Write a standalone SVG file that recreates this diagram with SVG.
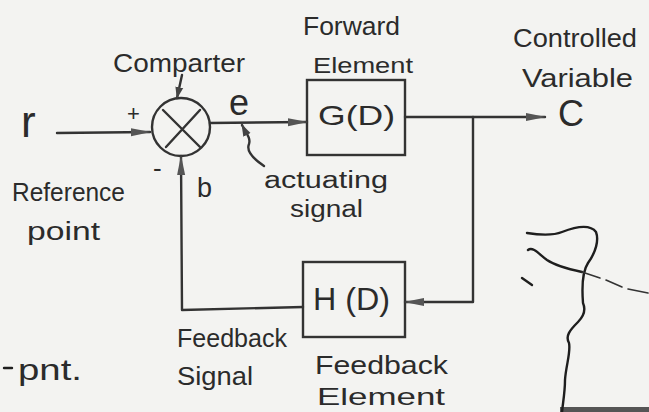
<svg xmlns="http://www.w3.org/2000/svg" width="649" height="412" viewBox="0 0 649 412">
<style>
  .t { font-family: "Liberation Sans", "DejaVu Sans", sans-serif; fill: #2b2b2b; }
  .ln { fill: none; stroke: #333; stroke-width: 2.4; stroke-linecap: round; stroke-linejoin: round; }
  .box { fill: none; stroke: #333; stroke-width: 2.4; }
  .sk { fill: none; stroke: #1e1e1e; stroke-width: 2.4; stroke-linecap: round; stroke-linejoin: round; }
</style>
<defs>
  <marker id="ah" markerWidth="20" markerHeight="10" refX="19" refY="5" orient="auto" markerUnits="userSpaceOnUse">
    <path d="M0,1 L20,5 L0,9 Z" fill="#555"/>
  </marker>
  <marker id="ahs" markerWidth="12" markerHeight="10" refX="11" refY="5" orient="auto" markerUnits="userSpaceOnUse">
    <path d="M0,1 L12,5 L0,9 Z" fill="#444"/>
  </marker>
</defs>
<rect x="0" y="0" width="649" height="412" fill="#f3f3f1"/>
<rect x="560" y="407" width="89" height="5" fill="#555"/>

<g id="comparator">
  <circle cx="181" cy="127" r="29" class="ln"/>
  <path d="M163,110 L200,147 M200,110 L166,147" class="ln"/>
  <text class="t" x="113" y="72" font-size="26" textLength="132" lengthAdjust="spacingAndGlyphs">Comparter</text>
  <text class="t" x="127" y="121" font-size="22">+</text>
  <text class="t" x="153" y="177" font-size="26">-</text>
</g>

<g id="forward-element">
  <rect x="307" y="80" width="98" height="75" class="box"/>
  <text class="t" x="318" y="125" font-size="28" textLength="77" lengthAdjust="spacingAndGlyphs">G(D)</text>
  <text class="t" x="303" y="35" font-size="26" textLength="97" lengthAdjust="spacingAndGlyphs">Forward</text>
  <text class="t" x="313" y="73" font-size="22" textLength="100" lengthAdjust="spacingAndGlyphs">Element</text>
</g>

<g id="feedback-element">
  <rect x="303" y="262" width="102" height="75" class="box"/>
  <text class="t" x="313" y="310" font-size="32" textLength="77" lengthAdjust="spacingAndGlyphs">H (D)</text>
  <text class="t" x="315" y="374" font-size="25" textLength="133" lengthAdjust="spacingAndGlyphs">Feedback</text>
  <text class="t" x="317" y="405" font-size="24" textLength="128" lengthAdjust="spacingAndGlyphs">Element</text>
</g>

<g id="reference">
  <text class="t" x="21" y="137" font-size="44">r</text>
  <text class="t" x="12" y="201" font-size="25" textLength="113" lengthAdjust="spacingAndGlyphs">Reference</text>
  <text class="t" x="27" y="240" font-size="26" textLength="73" lengthAdjust="spacingAndGlyphs">point</text>
</g>

<g id="output">
  <text class="t" x="558" y="126" font-size="36">C</text>
  <text class="t" x="513" y="47" font-size="25" textLength="124" lengthAdjust="spacingAndGlyphs">Controlled</text>
  <text class="t" x="522" y="87" font-size="25" textLength="111" lengthAdjust="spacingAndGlyphs">Variable</text>
</g>

<g id="labels">
  <text class="t" x="229" y="115" font-size="36">e</text>
  <text class="t" x="197" y="197" font-size="27">b</text>
  <text class="t" x="264" y="188" font-size="23" textLength="124" lengthAdjust="spacingAndGlyphs">actuating</text>
  <text class="t" x="290" y="217" font-size="23" textLength="73" lengthAdjust="spacingAndGlyphs">signal</text>
  <text class="t" x="177" y="347" font-size="25" textLength="110" lengthAdjust="spacingAndGlyphs">Feedback</text>
  <text class="t" x="177" y="385" font-size="26" textLength="76" lengthAdjust="spacingAndGlyphs">Signal</text>
  <text class="t" x="18" y="380" font-size="30" textLength="64" lengthAdjust="spacingAndGlyphs">pnt.</text>
</g>

<g id="connectors">
  <path d="M57,133 L150,132" class="ln" marker-end="url(#ah)"/>
  <path d="M182,75 L177,98" class="ln" marker-end="url(#ahs)"/>
  <path d="M210,123 L307,122" class="ln" marker-end="url(#ah)"/>
  <path d="M264,166 C252,158 246,151 249,144 C251,138 246,133 242,125" class="ln" marker-end="url(#ahs)"/>
  <path d="M405,117 L545,117" class="ln" marker-end="url(#ah)"/>
  <path d="M473,117 L473,302 L405,302" class="ln" marker-end="url(#ah)"/>
  <path d="M303,307 L182,310 L181,156" class="ln" marker-end="url(#ah)"/>
</g>

<g id="sketch">
  <path class="sk" d="M527,233 C540,235 552,236 562,232 C575,227 590,224 596,232 C599,240 596,252 588,263 C582,272 582,290 583,303 C586,310 584,316 578,322 C570,330 565,336 569,343 C571,352 566,365 565,380 C565,392 563,402 562,412"/>
  <path class="sk" d="M528,250 C533,246 540,255 547,260 C556,266 568,269 582,272"/>
  <path d="M582,272 L600,278 M606,280 L622,287 M628,289 L648,293" fill="none" stroke="#333" stroke-width="1.6" stroke-linecap="round"/>
  <path class="sk" d="M522,278 L532,285"/>
  <path class="sk" d="M4,368 L12,368"/>
</g>
</svg>
